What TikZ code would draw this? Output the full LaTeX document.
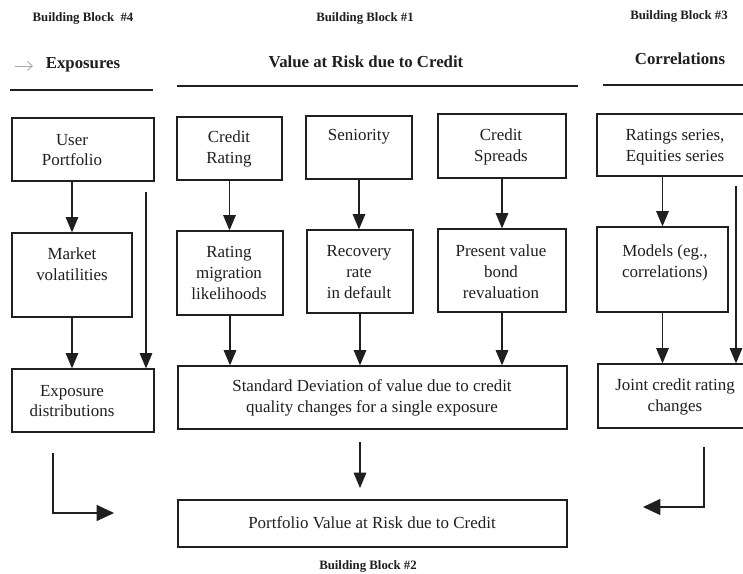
\documentclass[tikz,border=0pt]{standalone}
\usepackage{fontspec}
\setmainfont{Liberation Serif}
\usetikzlibrary{arrows.meta}
\definecolor{ink}{RGB}{30,30,35}
\tikzset{
  box/.style={draw=ink, line width=0.975pt, inner sep=0pt},
  bx/.style 2 args={box, minimum width={#1*0.75pt}, minimum height={#2*0.75pt}},
  txt/.style={text=ink, align=center, inner sep=0pt, font=\fontsize{12.7}{15.6}\selectfont},
  hdr/.style={text=ink, inner sep=0pt, font=\fontsize{12.6}{15}\selectfont\bfseries},
  bb/.style={text=ink, inner sep=0pt, font=\fontsize{9.6}{12}\selectfont\bfseries},
  rule/.style={draw=ink, line width=1.5pt},
  arr/.style={draw=ink, line width=0.8pt, -{Triangle[length=11.5pt,width=9.5pt]}},
  bigarr/.style={draw=ink, line width=0.8pt, -{Triangle[length=13pt,width=12pt]}},
}
\begin{document}
\begin{tikzpicture}[x=0.75pt,y=-0.75pt]
\useasboundingbox[fill=white] (0,0) rectangle (743,574);

% headers
\node[bb] (bb4) at (83,18) {Building Block \ \#4};
\node[bb] (bb1) at (365,18) {Building Block \#1};
\node[bb] (bb3) at (679,16) {Building Block \#3};
\node[bb] (bb2) at (368,566) {Building Block \#2};
\node[hdr] (hexp) at (83,65) {Exposures};
\node[hdr] (hvar) at (366,62) {Value at Risk due to Credit};
\node[hdr] (hcor) at (680,59) {Correlations};
\coordinate (ea1) at (15,66);
\coordinate (ea2) at (33,66);
\draw[gray!70, line width=0.6pt, -{Straight Barb[length=3.75pt,width=6.75pt]}] (ea1) -- (ea2);
\coordinate (r1a) at (10,90);  \coordinate (r1b) at (153,90);
\coordinate (r2a) at (177,86); \coordinate (r2b) at (578,86);
\coordinate (r3a) at (603,85); \coordinate (r3b) at (743,85);
\draw[rule] (r1a) -- (r1b);
\draw[rule] (r2a) -- (r2b);
\draw[rule] (r3a) -- (r3b);

% left column
\node[bx={142}{63}] (up) at (83,149.5) {};
\node[txt] at (72,150) {User\\Portfolio};
\node[bx={120}{84}] (mv) at (72,275) {};
\node[txt] at (72,264) {Market\\volatilities};
\node[bx={142}{63}] (ed) at (83,400.5) {};
\node[txt] at (72,401) {Exposure\\distributions};
\draw[arr] (mv.north |- up.south) -- (mv.north);
\draw[arr] (mv.south) -- (mv.south |- ed.north);
\coordinate (lx) at (146,192);
\draw[arr] (lx) -- (lx |- ed.north);

% middle column
\node[bx={105}{63}] (cr) at (229.5,148.5) {};
\node[txt] at (229,149) {Credit\\Rating};
\node[bx={106}{63}] (sn) at (359,147.5) {};
\node[txt] at (359,137) {Seniority};
\node[bx={128}{64}] (cs) at (502,146) {};
\node[txt] at (501,147) {Credit\\Spreads};
\node[bx={106}{84}] (rm) at (230,273) {};
\node[txt] at (229,273) {Rating\\migration\\likelihoods};
\node[bx={106}{83}] (rr) at (360,271.5) {};
\node[txt] at (359,272) {Recovery\\rate\\in default};
\node[bx={128}{83}] (pv) at (502,270.5) {};
\node[txt] at (501,272) {Present value\\bond\\revaluation};
\draw[arr] (cr.south) -- (cr.south |- rm.north);
\draw[arr] (sn.south) -- (sn.south |- rr.north);
\draw[arr] (cs.south) -- (cs.south |- pv.north);
\node[bx={389}{63}] (sd) at (372.5,397.5) {};
\node[txt] at (372,398) {Standard Deviation of value due to credit\\quality changes for a single exposure};
\draw[arr] (rm.south) -- (rm.south |- sd.north);
\draw[arr] (rr.south) -- (rr.south |- sd.north);
\draw[arr] (pv.south) -- (pv.south |- sd.north);
\node[bx={389}{47}] (pf) at (372.5,523.5) {};
\node[txt] at (372,523) {Portfolio Value at Risk due to Credit};
\coordinate (sdx) at (360,442);
\coordinate (sdy) at (360,488);
\draw[arr] (sdx) -- (sdy);

% right column
\node[bx={153}{62}] (rs) at (673.5,145) {};
\node[txt] at (675,147) {Ratings series,\\Equities series};
\node[bx={131}{85}] (md) at (662.5,269.5) {};
\node[txt] at (665,263) {Models (eg.,\\correlations)};
\node[bx={152}{64}] (jc) at (674,396) {};
\node[txt] at (675,397) {Joint credit rating\\changes};
\draw[arr] (rs.south -| md.north) -- (md.north);
\draw[arr] (md.south) -- (md.south |- jc.north);
\coordinate (rx) at (736,186);
\draw[arr] (rx) -- (rx |- jc.north);

% corner arrows
\coordinate (la) at (53,453);
\coordinate (lb) at (53,513);
\coordinate (lc) at (114,513);
\draw[bigarr] (la) -- (lb) -- (lc);
\coordinate (ra) at (704,447);
\coordinate (rb) at (704,507);
\coordinate (rc) at (643,507);
\draw[bigarr] (ra) -- (rb) -- (rc);
\end{tikzpicture}
\end{document}
